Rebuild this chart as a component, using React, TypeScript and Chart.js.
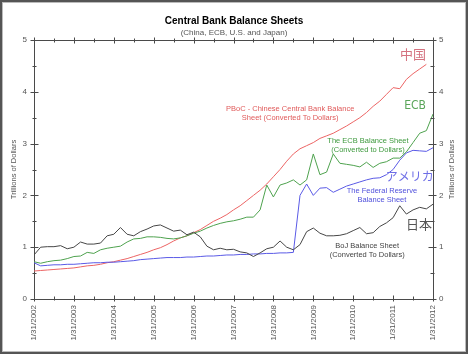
import React, { useEffect, useRef } from "react";
import { Chart, registerables } from "chart.js";

Chart.register(...registerables);

const FONT = "'Liberation Sans', Arial, Helvetica, sans-serif";
const CJK = "'Noto Sans CJK JP', 'Noto Sans CJK SC', sans-serif";
const AXIS = "#4a4a4a";
const TEXT = "#555555";

// Every 2 months from 1/31/2002 to 1/31/2012
const startYear = 2002;
const stepMonths = 2;
const yearLabels = [
  "1/31/2002", "1/31/2003", "1/31/2004", "1/31/2005", "1/31/2006", "1/31/2007",
  "1/31/2008", "1/31/2009", "1/31/2010", "1/31/2011", "1/31/2012",
];

const chinaPboc = [
  0.54, 0.55, 0.56, 0.57, 0.58, 0.59, 0.6, 0.62, 0.64, 0.65,
  0.67, 0.7, 0.72, 0.75, 0.78, 0.82, 0.86, 0.9, 0.95, 0.99,
  1.05, 1.12, 1.18, 1.22, 1.28, 1.34, 1.42, 1.5, 1.56, 1.63,
  1.72, 1.8, 1.9, 2.0, 2.1, 2.22, 2.36, 2.5, 2.66, 2.8,
  2.9, 2.96, 3.02, 3.1, 3.15, 3.2, 3.27, 3.34, 3.42, 3.5,
  3.6, 3.72, 3.82, 3.95, 4.08, 4.06, 4.24, 4.35, 4.44, 4.53,
  null,
];

const ecb = [
  0.72, 0.69, 0.72, 0.74, 0.75, 0.78, 0.82, 0.83, 0.9, 0.88,
  0.95, 0.98, 1.0, 1.02, 1.1, 1.16, 1.17, 1.2, 1.2, 1.19,
  1.17, 1.16, 1.18, 1.22, 1.27, 1.31, 1.37, 1.42, 1.46, 1.49,
  1.51, 1.54, 1.58, 1.58, 1.72, 2.2, 1.97, 2.2, 2.24, 2.3,
  2.2, 2.3, 2.8, 2.4, 2.45, 2.8, 2.62, 2.6, 2.58, 2.55,
  2.64, 2.54, 2.62, 2.65, 2.72, 2.72, 2.84, 3.02, 3.2, 3.25,
  3.57,
];

const fed = [
  0.7, 0.64, 0.65, 0.66, 0.66, 0.67, 0.67, 0.68, 0.69, 0.7,
  0.7, 0.71, 0.71, 0.72, 0.73, 0.74, 0.76, 0.77, 0.78, 0.79,
  0.8, 0.8, 0.8, 0.81, 0.81, 0.82, 0.83, 0.83, 0.84, 0.85,
  0.85, 0.86, 0.86, 0.87, 0.87, 0.88, 0.88, 0.89, 0.89, 0.9,
  2.0, 2.22, 2.0, 2.14, 2.15, 2.06, 2.12, 2.18, 2.22, 2.26,
  2.3, 2.33, 2.34, 2.4, 2.5, 2.68, 2.82, 2.87, 2.86, 2.85,
  2.92,
];

const boj = [
  0.85, 1.0, 1.01, 1.01, 1.03, 0.97, 1.0, 1.1, 1.06, 1.06,
  1.08, 1.22, 1.25, 1.38, 1.25, 1.22, 1.3, 1.35, 1.41, 1.43,
  1.37, 1.31, 1.33, 1.24, 1.29, 1.2, 1.02, 0.95, 0.98, 0.95,
  0.96, 0.91, 0.89, 0.82, 0.89, 0.97, 1.0, 1.12, 1.0, 0.95,
  1.05, 1.3, 1.37, 1.27, 1.22, 1.22, 1.23, 1.26, 1.32, 1.38,
  1.26, 1.28, 1.4, 1.47, 1.57, 1.8, 1.64, 1.72, 1.77, 1.74,
  1.83,
];

const periods = chinaPboc.map((_, i) => startYear + (i * stepMonths) / 12);
const toPoints = (vals: (number | null)[]) => vals.map((v, i) => ({ x: periods[i], y: v }));

const SMALL = `7.5px ${FONT}`;
const annotations = [
  { x: 2011.5, y: 4.73, lines: ["中国"], color: "#d4727f", font: `13px ${CJK}` },
  { x: 2008.42, y: 3.67, lines: ["PBoC - Chinese Central Bank Balance", "Sheet (Converted To Dollars)"], color: "#e05a5a", font: SMALL },
  { x: 2011.55, y: 3.73, lines: ["ECB"], color: "#5aa55a", font: `12px 'DejaVu Sans Condensed', 'Liberation Sans Narrow', ${FONT}` },
  { x: 2010.37, y: 3.05, lines: ["The ECB Balance Sheet", "(Converted to Dollars)"], color: "#3f9a3f", font: SMALL },
  { x: 2011.42, y: 2.36, lines: ["アメリカ"], color: "#6e6ee6", font: `12px ${CJK}` },
  { x: 2010.72, y: 2.08, lines: ["The Federal Reserve", "Balance Sheet"], color: "#5050dc", font: SMALL },
  { x: 2011.65, y: 1.45, lines: ["日本"], color: "#555555", font: `13px ${CJK}` },
  { x: 2010.35, y: 1.02, lines: ["BoJ Balance Sheet", "(Converted To Dollars)"], color: "#444444", font: SMALL },
];

const decorPlugin = {
  id: "decor",
  afterDraw(chart: any) {
    const { ctx, chartArea, scales } = chart;
    const { left, right, top, bottom } = chartArea;
    const xs = scales.x;
    const ys = scales.y;
    ctx.save();
    ctx.strokeStyle = AXIS;
    ctx.lineWidth = 1;
    const line = (x1: number, y1: number, x2: number, y2: number) => {
      ctx.beginPath();
      ctx.moveTo(x1, y1);
      ctx.lineTo(x2, y2);
      ctx.stroke();
    };
    const L = Math.round(left) + 0.5;
    const R = Math.round(right) - 0.5;
    const T = Math.round(top) + 0.5;
    const B = Math.round(bottom) - 0.5;
    line(L, T, R, T);
    for (let v = 0; v <= 5.001; v += 0.5) {
      const py = Math.round(ys.getPixelForValue(v)) + 0.5;
      const major = Math.abs(v - Math.round(v)) < 1e-6;
      const len = major ? 4 : 2;
      line(L - len, py, L + len, py);
      line(R - len, py, R + len, py);
    }
    for (let t = startYear; t <= startYear + 10.001; t += 0.5) {
      const px = Math.round(xs.getPixelForValue(t)) + 0.5;
      const major = Math.abs(t - Math.round(t)) < 1e-6;
      const len = major ? 3 : 2;
      line(px, B - len, px, B + len);
      line(px, T - len, px, T + len);
    }
    // titles
    ctx.fillStyle = "#000";
    ctx.textAlign = "center";
    ctx.textBaseline = "middle";
    ctx.font = `bold 10px ${FONT}`;
    ctx.fillText("Central Bank Balance Sheets", 234, 21);
    ctx.fillStyle = TEXT;
    ctx.font = `8px ${FONT}`;
    ctx.fillText("(China, ECB, U.S. and Japan)", 234, 33);
    // axis titles
    ctx.font = `7.5px ${FONT}`;
    const mid = (top + bottom) / 2;
    for (const ax of [14, 452]) {
      ctx.save();
      ctx.translate(ax, mid);
      ctx.rotate(-Math.PI / 2);
      ctx.fillText("Trillions of Dollars", 0, 0);
      ctx.restore();
    }
    // annotations
    for (const a of annotations) {
      const px = xs.getPixelForValue(a.x);
      const py = ys.getPixelForValue(a.y);
      ctx.font = a.font;
      ctx.fillStyle = a.color;
      a.lines.forEach((txt, i) => ctx.fillText(txt, px, py + i * 9));
    }
    ctx.restore();
  },
};

export default function App() {
  const ref = useRef<HTMLCanvasElement>(null);
  useEffect(() => {
    document.body.style.margin = "0";
    const canvas = ref.current!;
    const tickFont = { size: 8, family: FONT };
    const chart = new Chart(canvas, {
      type: "line",
      data: {
        datasets: [
          { label: "BoJ", data: toPoints(boj), borderColor: "#464646" },
          { label: "Fed", data: toPoints(fed), borderColor: "#5a5ae6" },
          { label: "ECB", data: toPoints(ecb), borderColor: "#4ea24e" },
          { label: "PBoC", data: toPoints(chinaPboc), borderColor: "#ec6464" },
        ].map((d) => ({ ...d, borderWidth: 1, pointRadius: 0, tension: 0, fill: false, yAxisID: "y" })),
      },
      options: {
        responsive: false,
        devicePixelRatio: 1,
        animation: false,
        parsing: true,
        layout: { padding: { top: 40, left: 0, right: 0, bottom: 0 } },
        plugins: { legend: { display: false }, tooltip: { enabled: false }, title: { display: false } },
        scales: {
          x: {
            type: "linear",
            min: startYear,
            max: startYear + 10,
            afterFit: (s: any) => { s.height = 55; },
            ticks: {
              stepSize: 1,
              autoSkip: false,
              maxRotation: 90,
              minRotation: 90,
              padding: 6,
              color: TEXT,
              font: tickFont,
              callback: (v: any) => yearLabels[Math.round(Number(v) - startYear)] ?? "",
            },
            grid: { display: false, drawTicks: false },
            border: { display: true, color: AXIS, width: 1 },
          },
          y: {
            position: "left",
            min: 0,
            max: 5,
            afterFit: (s: any) => { s.width = 34; },
            ticks: { stepSize: 1, padding: 7, color: TEXT, font: tickFont },
            grid: { display: false, drawTicks: false },
            border: { display: true, color: AXIS, width: 1 },
          },
          y2: {
            position: "right",
            display: true,
            min: 0,
            max: 5,
            afterFit: (s: any) => { s.width = 35; },
            ticks: { stepSize: 1, padding: 6, color: TEXT, font: tickFont },
            grid: { display: false, drawTicks: false },
            border: { display: true, color: AXIS, width: 1 },
          },
        },
      } as any,
      plugins: [decorPlugin],
    });
    return () => chart.destroy();
  }, []);
  return (
    <div style={{ position: "relative", width: 468, height: 354, background: "#fff" }}>
      <canvas ref={ref} width={468} height={354} style={{ display: "block", width: 468, height: 354 }} />
      <div
        style={{
          position: "absolute",
          inset: 0,
          border: "2px solid #555",
          boxShadow: "inset 0 0 0 1px #bbb",
          boxSizing: "border-box",
          pointerEvents: "none",
        }}
      />
    </div>
  );
}
